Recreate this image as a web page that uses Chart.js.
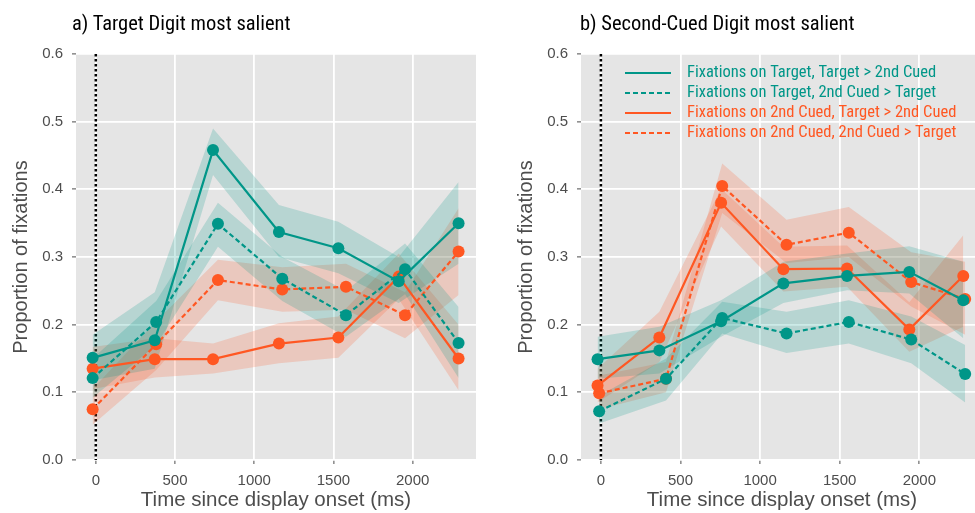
<!DOCTYPE html>
<html>
<head>
<meta charset="utf-8">
<script src="https://cdn.jsdelivr.net/npm/chart.js@4.4.0/dist/chart.umd.min.js"></script>
<style>
  html, body { margin: 0; padding: 0; background: #fff; overflow: hidden; }
  body { width: 975px; height: 513px; position: relative; }
  .panel { position: absolute; top: 0; height: 513px; }
  .ttl { position: absolute; top: 12px; font-family: 'Roboto Condensed', 'Liberation Sans Narrow', 'DejaVu Sans Condensed', Roboto, sans-serif;
         font-size: 20.5px; line-height: 22px; color: #000; white-space: nowrap; }
</style>
</head>
<body>
<div class="panel" style="left:0;width:482px"><canvas id="chartA" width="482" height="513"></canvas></div>
<div class="panel" style="left:505px;width:484px"><canvas id="chartB" width="484" height="513"></canvas></div>
<div class="ttl" style="left:72px">a) Target Digit most salient</div>
<div class="ttl" style="left:580px">b) Second-Cued Digit most salient</div>
<script>
// tick labels
const xTicks = [0, 500, 1000, 1500, 2000];
const yTicks = [0, 0.1, 0.2, 0.3, 0.4, 0.5, 0.6];

const labels = [
  'Fixations on Target, Target > 2nd Cued',
  'Fixations on Target, 2nd Cued > Target',
  'Fixations on 2nd Cued, Target > 2nd Cued',
  'Fixations on 2nd Cued, 2nd Cued > Target'
];

// ---- panel a) Target Digit most salient ----
const aTimeSolid = [-20, 372, 740, 1156, 1531, 1912, 2290];
const aTimeDash  = [-20, 381, 771, 1177, 1579, 1952, 2290];

const aTgtT    = [0.151, 0.177, 0.458, 0.337, 0.313, 0.264, 0.350];
const aTgtT_hi = [0.185, 0.248, 0.490, 0.377, 0.352, 0.300, 0.411];
const aTgtT_lo = [0.118, 0.135, 0.421, 0.300, 0.276, 0.232, 0.290];

const aTgtC    = [0.121, 0.204, 0.349, 0.268, 0.214, 0.282, 0.173];
const aTgtC_hi = [0.150, 0.235, 0.380, 0.300, 0.250, 0.320, 0.226];
const aTgtC_lo = [0.092, 0.170, 0.315, 0.235, 0.182, 0.245, 0.121];

const aCueT    = [0.135, 0.149, 0.149, 0.172, 0.181, 0.271, 0.150];
const aCueT_hi = [0.167, 0.180, 0.172, 0.202, 0.212, 0.305, 0.200];
const aCueT_lo = [0.105, 0.122, 0.128, 0.143, 0.151, 0.238, 0.103];

const aCueC    = [0.075, 0.171, 0.266, 0.252, 0.256, 0.214, 0.308];
const aCueC_hi = [0.105, 0.205, 0.296, 0.285, 0.290, 0.248, 0.372];
const aCueC_lo = [0.052, 0.133, 0.236, 0.219, 0.222, 0.180, 0.244];

// ---- panel b) Second-Cued Digit most salient ----
const bTimeSolid = [-21, 367, 755, 1146, 1546, 1937, 2276];
const bTimeDash  = [-11, 409, 762, 1166, 1557, 1949, 2288];

const bTgtT    = [0.149, 0.162, 0.205, 0.261, 0.272, 0.278, 0.236];
const bTgtT_hi = [0.182, 0.197, 0.236, 0.293, 0.305, 0.316, 0.293];
const bTgtT_lo = [0.120, 0.128, 0.182, 0.232, 0.251, 0.246, 0.180];

const bTgtC    = [0.072, 0.120, 0.210, 0.187, 0.204, 0.178, 0.127];
const bTgtC_hi = [0.095, 0.150, 0.234, 0.219, 0.236, 0.212, 0.170];
const bTgtC_lo = [0.054, 0.088, 0.187, 0.158, 0.172, 0.143, 0.085];

const bCueT    = [0.110, 0.181, 0.380, 0.282, 0.283, 0.193, 0.272];
const bCueT_hi = [0.135, 0.219, 0.401, 0.315, 0.317, 0.233, 0.332];
const bCueT_lo = [0.085, 0.145, 0.345, 0.249, 0.256, 0.160, 0.197];

const bCueC    = [0.0985, 0.120, 0.405, 0.318, 0.336, 0.263, 0.238];
const bCueC_hi = [0.125, 0.145, 0.438, 0.355, 0.374, 0.307, 0.293];
const bCueC_lo = [0.075, 0.100, 0.365, 0.291, 0.300, 0.227, 0.185];

const onsetTime = 0;

const TEAL = 'rgb(0,150,136)', TEAL_BAND = 'rgba(0,150,136,0.2)';
const ORNG = 'rgb(255,87,34)', ORNG_BAND = 'rgba(255,87,34,0.2)';
const DASH = [5, 3];
const condFont = "'Roboto Condensed', 'Liberation Sans Narrow', 'DejaVu Sans Condensed', Roboto, sans-serif";

Chart.defaults.font.family = "'Liberation Sans', Arial, sans-serif";
Chart.defaults.color = '#4d4d4d';

function pts(xs, ys) { return xs.map((x, i) => ({x: x, y: ys[i]})); }

function seriesList(ts, td, s) {
  return [
    {label: labels[0], color: TEAL, band: TEAL_BAND, dash: [], t: ts, m: s[0], hi: s[1], lo: s[2]},
    {label: labels[1], color: TEAL, band: TEAL_BAND, dash: DASH, t: td, m: s[3], hi: s[4], lo: s[5]},
    {label: labels[2], color: ORNG, band: ORNG_BAND, dash: [], t: ts, m: s[6], hi: s[7], lo: s[8]},
    {label: labels[3], color: ORNG, band: ORNG_BAND, dash: DASH, t: td, m: s[9], hi: s[10], lo: s[11]}
  ];
}

const panelBg = {
  id: 'panelBg',
  beforeDraw(chart) {
    const a = chart.chartArea, ctx = chart.ctx;
    ctx.save();
    ctx.fillStyle = '#e5e5e5';
    ctx.fillRect(a.left, a.top, a.right - a.left, a.bottom - a.top);
    ctx.restore();
  }
};

const onsetLine = {
  id: 'onsetLine',
  beforeDatasetsDraw(chart) {
    const a = chart.chartArea, ctx = chart.ctx;
    const x = chart.scales.x.getPixelForValue(onsetTime);
    ctx.save();
    ctx.strokeStyle = '#000';
    ctx.lineWidth = 2.5;
    ctx.setLineDash([2.5, 2.5]);
    ctx.beginPath();
    ctx.moveTo(x, a.top);
    ctx.lineTo(x, a.bottom);
    ctx.stroke();
    ctx.restore();
  }
};

const inLegend = {
  id: 'inLegend',
  afterDraw(chart, args, opts) {
    if (!opts.items) return;
    const a = chart.chartArea, ctx = chart.ctx;
    ctx.save();
    ctx.font = '16.5px ' + condFont;
    ctx.textBaseline = 'middle';
    opts.items.forEach((s, i) => {
      const y = a.top + 19 + i * 20;
      ctx.strokeStyle = s.color;
      ctx.lineWidth = 2;
      ctx.setLineDash(s.dash);
      ctx.beginPath();
      ctx.moveTo(a.left + 44, y);
      ctx.lineTo(a.left + 90, y);
      ctx.stroke();
      ctx.fillStyle = s.color;
      ctx.fillText(s.label, a.left + 106, y);
    });
    ctx.restore();
  }
};

function makePanel(id, series, withLegend) {
  const lines = series.map(s => ({
    label: s.label,
    data: pts(s.t, s.m),
    borderColor: s.color,
    backgroundColor: s.color,
    borderWidth: 2.2,
    borderDash: s.dash,
    pointRadius: 6,
    pointBorderWidth: 0,
    pointBackgroundColor: s.color,
    fill: false
  }));
  const bands = [];
  series.forEach(s => {
    bands.push({data: pts(s.t, s.hi), borderWidth: 0, pointRadius: 0, fill: '+1', backgroundColor: s.band});
    bands.push({data: pts(s.t, s.lo), borderWidth: 0, pointRadius: 0, fill: false});
  });

  return new Chart(document.getElementById(id), {
    type: 'line',
    data: { datasets: lines.concat(bands) },
    plugins: [panelBg, onsetLine, inLegend],
    options: {
      responsive: false,
      animation: false,
      layout: { padding: { top: 54, right: 2, left: 0, bottom: 0 } },
      plugins: {
        legend: { display: false },
        tooltip: { enabled: false },
        inLegend: { items: withLegend ? series : null }
      },
      scales: {
        x: {
          type: 'linear',
          min: -125, max: 2400,
          afterBuildTicks: sc => { sc.ticks = xTicks.map(v => ({value: v})); },
          afterFit: sc => { sc.height = 53; },
          ticks: { font: { size: 15 }, color: '#4d4d4d', padding: 8, callback: v => String(v) },
          grid: { color: '#fff', lineWidth: 1.8, tickColor: '#4d4d4d', tickLength: 4, tickWidth: 1 },
          border: { display: false },
          title: { display: true, text: 'Time since display onset (ms)', font: { size: 20.5 }, color: '#4d4d4d', padding: { top: 0, bottom: 0 } }
        },
        y: {
          min: 0, max: 0.6,
          afterBuildTicks: sc => { sc.ticks = yTicks.map(v => ({value: v})); },
          afterFit: sc => { sc.width = 76; },
          ticks: { font: { size: 15 }, color: '#4d4d4d', padding: 9, callback: v => v.toFixed(1) },
          grid: { color: '#fff', lineWidth: 1.8, tickColor: '#4d4d4d', tickLength: 4, tickWidth: 1 },
          border: { display: false },
          title: { display: true, text: 'Proportion of fixations', font: { size: 20 }, color: '#4d4d4d', padding: { top: 9, bottom: 0 } }
        }
      }
    }
  });
}

makePanel('chartA', seriesList(aTimeSolid, aTimeDash,
  [aTgtT, aTgtT_hi, aTgtT_lo, aTgtC, aTgtC_hi, aTgtC_lo, aCueT, aCueT_hi, aCueT_lo, aCueC, aCueC_hi, aCueC_lo]), false);
makePanel('chartB', seriesList(bTimeSolid, bTimeDash,
  [bTgtT, bTgtT_hi, bTgtT_lo, bTgtC, bTgtC_hi, bTgtC_lo, bCueT, bCueT_hi, bCueT_lo, bCueC, bCueC_hi, bCueC_lo]), true);
</script>
</body>
</html>
